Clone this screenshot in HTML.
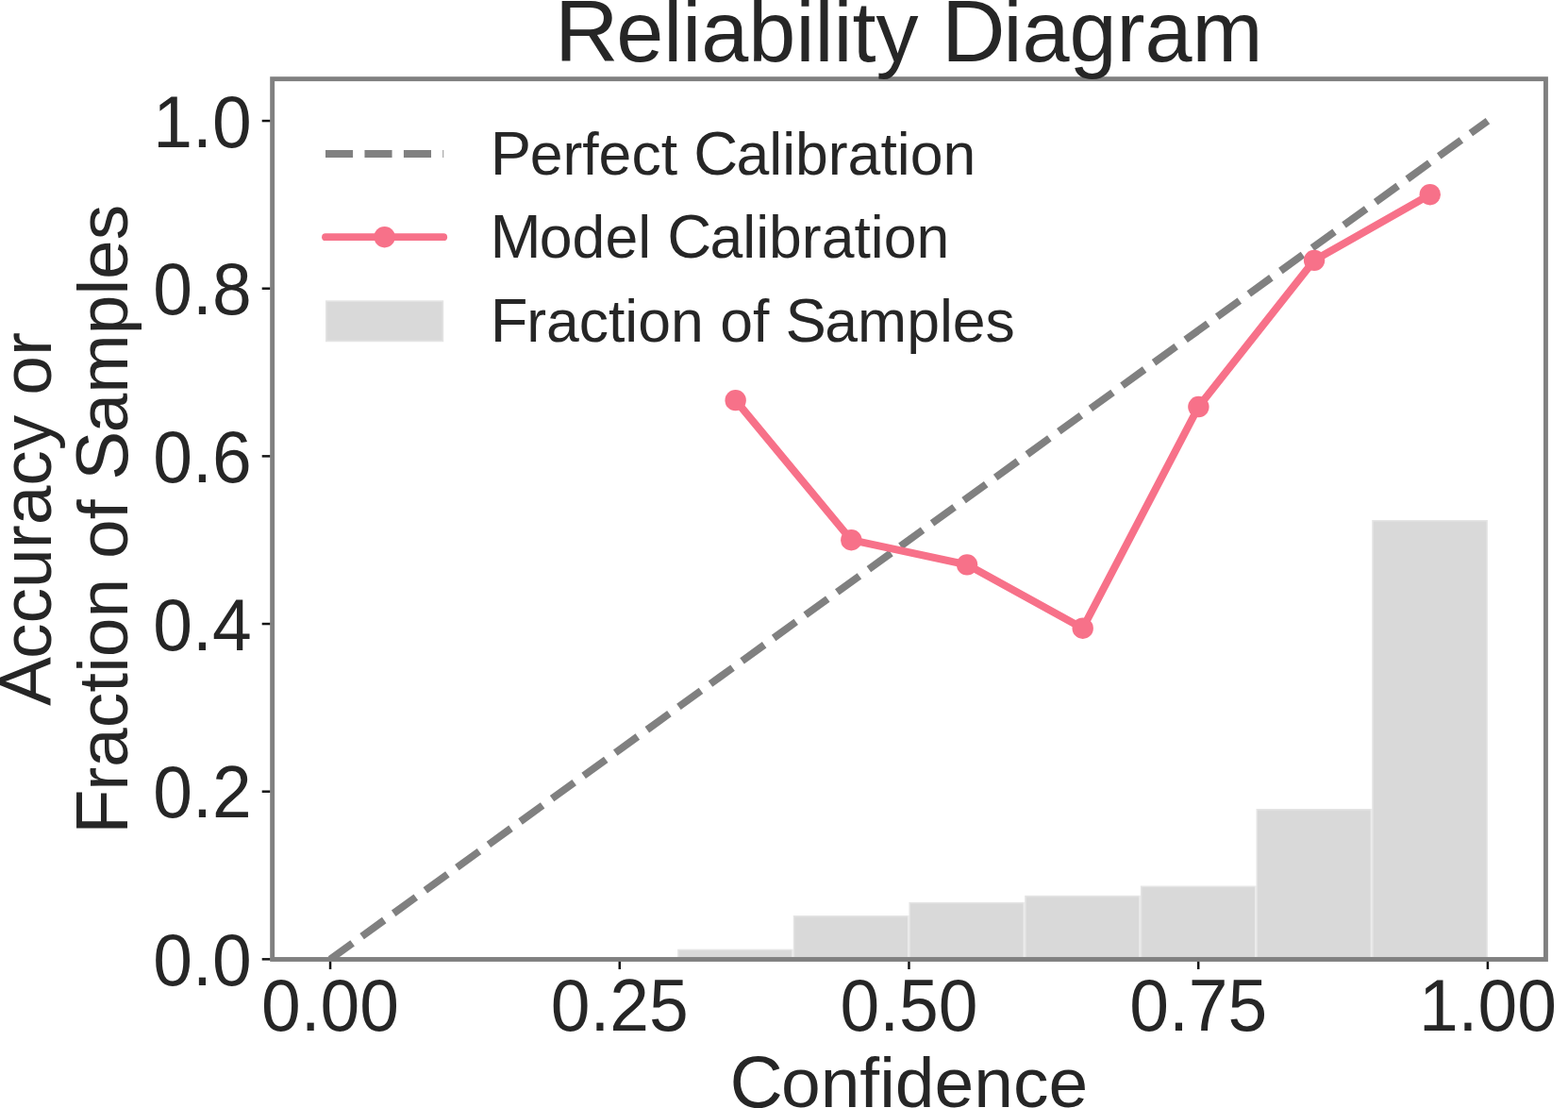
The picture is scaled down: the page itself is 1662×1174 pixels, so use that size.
<!DOCTYPE html>
<html lang="en"><head><meta charset="utf-8"><title>Reliability Diagram</title>
<style>html,body{margin:0;padding:0;background:#fff;overflow:hidden}svg{display:block}text{font-family:"Liberation Sans",sans-serif;fill:#262626}</style></head><body>
<svg width="1662" height="1174" viewBox="0 0 1662 1174">
<rect width="1662" height="1174" fill="#fff"/>
<g fill="#808080" fill-opacity="0.3" stroke="#fff" stroke-opacity="0.3" stroke-width="3.1">
<rect x="718.11" y="1005.70" width="122.68" height="10.80"/>
<rect x="840.79" y="970.00" width="122.68" height="46.50"/>
<rect x="963.47" y="955.90" width="122.68" height="60.60"/>
<rect x="1086.16" y="948.80" width="122.68" height="67.70"/>
<rect x="1208.84" y="938.55" width="122.69" height="77.95"/>
<rect x="1331.53" y="857.00" width="122.68" height="159.50"/>
<rect x="1454.21" y="551.00" width="122.68" height="465.50"/>
</g>
<clipPath id="ax"><rect x="288.65" y="83.65" width="1349.80" height="932.85"/></clipPath>
<line x1="350.05" y1="1016.35" x2="1576.90" y2="128.05" stroke="#808080" stroke-width="7.8" stroke-dasharray="29.1 12.355" clip-path="url(#ax)"/>
<polyline points="779.65,424.15 902.33,572.20 1025.02,598.35 1147.70,665.70 1270.39,431.05 1393.07,275.85 1515.76,206.20" fill="none" stroke="#f77189" stroke-width="8" stroke-linejoin="round" stroke-linecap="round"/>
<g fill="#f77189">
<circle cx="779.65" cy="424.15" r="11.2"/>
<circle cx="902.33" cy="572.20" r="11.2"/>
<circle cx="1025.02" cy="598.35" r="11.2"/>
<circle cx="1147.70" cy="665.70" r="11.2"/>
<circle cx="1270.39" cy="431.05" r="11.2"/>
<circle cx="1393.07" cy="275.85" r="11.2"/>
<circle cx="1515.76" cy="206.20" r="11.2"/>
</g>
<rect x="288.65" y="83.65" width="1349.80" height="932.85" fill="none" stroke="#808080" stroke-width="4.9"/>
<g stroke="#151515" stroke-width="2.5">
<line x1="350.05" y1="1018.90" x2="350.05" y2="1027.00"/>
<line x1="656.76" y1="1018.90" x2="656.76" y2="1027.00"/>
<line x1="963.47" y1="1018.90" x2="963.47" y2="1027.00"/>
<line x1="1270.19" y1="1018.90" x2="1270.19" y2="1027.00"/>
<line x1="1576.90" y1="1018.90" x2="1576.90" y2="1027.00"/>
<line x1="286.25" y1="1016.35" x2="277.70" y2="1016.35"/>
<line x1="286.25" y1="838.69" x2="277.70" y2="838.69"/>
<line x1="286.25" y1="661.03" x2="277.70" y2="661.03"/>
<line x1="286.25" y1="483.37" x2="277.70" y2="483.37"/>
<line x1="286.25" y1="305.71" x2="277.70" y2="305.71"/>
<line x1="286.25" y1="128.05" x2="277.70" y2="128.05"/>
</g>
<g font-size="75" text-anchor="middle">
<text transform="translate(350.05,1092) scale(1,1.04)">0.00</text>
<text transform="translate(656.76,1092) scale(1,1.04)">0.25</text>
<text transform="translate(963.47,1092) scale(1,1.04)">0.50</text>
<text transform="translate(1270.19,1092) scale(1,1.04)">0.75</text>
<text transform="translate(1576.90,1092) scale(1,1.04)">1.00</text>
</g>
<g font-size="75" text-anchor="end">
<text transform="translate(266.6,1043.90) scale(1,1.04)">0.0</text>
<text transform="translate(266.6,866.24) scale(1,1.04)">0.2</text>
<text transform="translate(266.6,688.58) scale(1,1.04)">0.4</text>
<text transform="translate(266.6,510.92) scale(1,1.04)">0.6</text>
<text transform="translate(266.6,333.26) scale(1,1.04)">0.8</text>
<text transform="translate(266.6,155.60) scale(1,1.04)">1.0</text>
</g>
<text x="963.55" y="1172.8" font-size="75" text-anchor="middle"><tspan font-size="78.00" dx="-0.15">C</tspan><tspan dx="-2.01">onfidence</tspan></text>
<text transform="translate(53.7,550.08) rotate(-90)" font-size="75" text-anchor="middle"><tspan font-size="78.00" dx="-0.01">A</tspan><tspan dx="-2.00">ccuracy or</tspan></text>
<text transform="translate(134.8,550.08) rotate(-90)" font-size="75" text-anchor="middle"><tspan font-size="78.00" dx="-0.25">F</tspan><tspan dx="-1.59">raction of </tspan><tspan font-size="78.00" dx="-0.14">S</tspan><tspan dx="-1.86">amples</tspan></text>
<text x="963.55" y="65" font-size="90" text-anchor="middle"><tspan font-size="93.60" dx="-0.30">R</tspan><tspan dx="-2.30">eliability </tspan><tspan font-size="93.60" dx="-0.30">D</tspan><tspan dx="-2.30">iagram</tspan></text>
<line x1="345" y1="163" x2="470.2" y2="163" stroke="#808080" stroke-width="7.8" stroke-dasharray="29.1 12.355"/>
<line x1="345" y1="251.2" x2="470.2" y2="251.2" stroke="#f77189" stroke-width="7.8" stroke-linecap="round"/>
<circle cx="407.6" cy="251.2" r="11.2" fill="#f77189"/>
<rect x="345" y="318.3" width="125.2" height="43.9" fill="#808080" fill-opacity="0.3" stroke="#fff" stroke-opacity="0.3" stroke-width="3.1"/>
<g font-size="62.5">
<text x="520" y="184.5"><tspan font-size="65.00" dx="-0.21">P</tspan><tspan dx="-1.46">erfect </tspan><tspan font-size="65.00" dx="-0.13">C</tspan><tspan dx="-1.68">alibration</tspan></text>
<text x="519.8" y="273"><tspan font-size="65.00" dx="-0.21">M</tspan><tspan dx="-1.88">odel </tspan><tspan font-size="65.00" dx="-0.13">C</tspan><tspan dx="-1.68">alibration</tspan></text>
<text x="520" y="362"><tspan font-size="65.00" dx="-0.21">F</tspan><tspan dx="-1.32">raction of </tspan><tspan font-size="65.00" dx="-0.11">S</tspan><tspan dx="-1.55">amples</tspan></text>
</g>
</svg></body></html>
